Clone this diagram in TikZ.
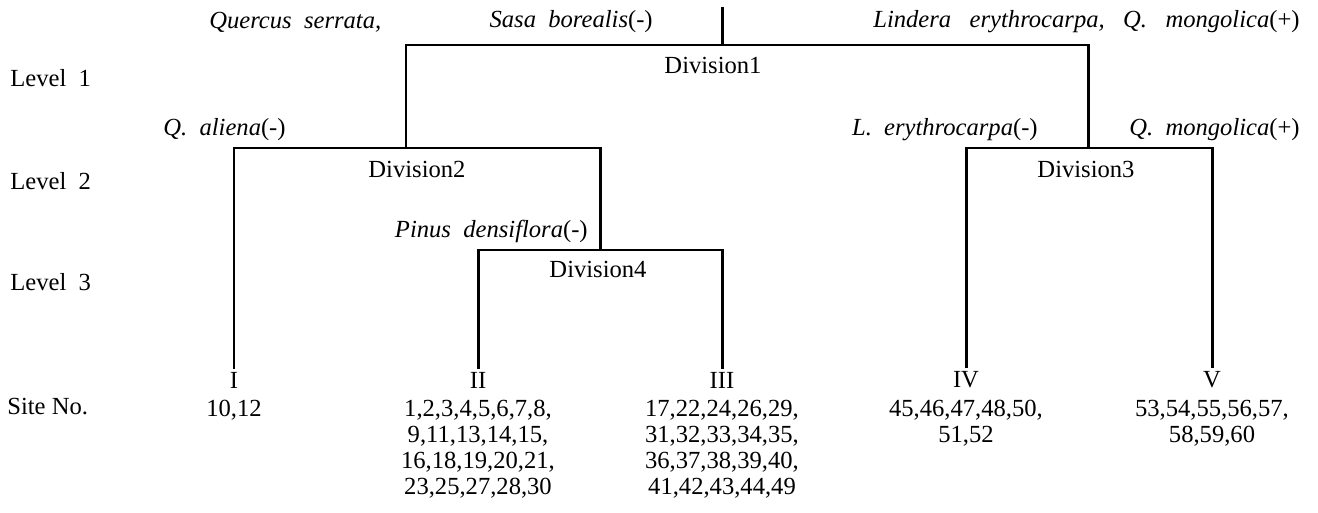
\documentclass[tikz,border=0pt]{standalone}
\usepackage{fontspec}
\setmainfont{Liberation Serif}
\usetikzlibrary{positioning}

\tikzset{
  branch/.style={line width=1.7pt},
  leaf/.style={inner sep=0.06cm},
  sites/.style={inner sep=0pt, align=center},
  spp/.style={inner sep=0pt},
}

\begin{document}
\begin{tikzpicture}[x=0.02cm, y=-0.02cm, font=\fontsize{14}{14.7}\selectfont]
  \useasboundingbox (0,0) rectangle (1318,513);
  % levels
  \node[spp, anchor=west] (lev1) at (10,78) {Level\ \ 1};
  \node[spp, anchor=west] (lev2) at (10,181) {Level\ \ 2};
  \node[spp, anchor=west] (lev3) at (10,282) {Level\ \ 3};
  \node[spp, anchor=west] (site) at (7,407) {Site No.};
  % junctions
  \coordinate (top) at (722,7);
  \coordinate (d1) at (722,45);
  \coordinate (d2) at (406,148);
  \coordinate (d3) at (1088,148);
  \coordinate (d2r) at (600,148);
  \coordinate (d4) at (600,250);
  % groups
  \node[leaf] (lI) at (234,380) {I};
  \node[leaf] (lII) at (478,380) {II};
  \node[leaf] (lIII) at (722,380) {III};
  \node[leaf] (lIV) at (966,380) {IV};
  \node[leaf] (lV) at (1212,380) {V};
  \node[sites, below=0.17cm of lI] (sI) {10,12};
  \node[sites, below=0.17cm of lII] (sII) {1,2,3,4,5,6,7,8,\\9,11,13,14,15,\\16,18,19,20,21,\\23,25,27,28,30};
  \node[sites, below=0.17cm of lIII] (sIII) {17,22,24,26,29,\\31,32,33,34,35,\\36,37,38,39,40,\\41,42,43,44,49};
  \node[sites, below=0.17cm of lIV] (sIV) {45,46,47,48,50,\\51,52};
  \node[sites, below=0.17cm of lV] (sV) {53,54,55,56,57,\\58,59,60};
  % branches
  \draw[branch] (top) -- (d1);
  \draw[branch] (d2) |- (d1) -| (d3);
  \draw[branch] (lI.north) |- (d2r) -- (d4);
  \draw[branch] (lII.north) |- (lIII.north |- d4) -- (lIII.north);
  \draw[branch] (lIV.north) |- (d3) -| (lV.north);
  % divisions
  \node[spp] (div1) at (713,65) {Division1};
  \node[spp] (div2) at (417,169) {Division2};
  \node[spp] (div3) at (1086,169) {Division3};
  \node[spp] (div4) at (598,269) {Division4};
  % indicator species
  \node[spp, anchor=west] (qs) at (209,22) {\textit{Quercus\ \ serrata,}};
  \node[spp, anchor=east] (sb) at (653,22) {\textit{Sasa\ \ borealis}(-)};
  \node[spp, anchor=east] (le) at (1300,22) {\textit{Lindera\hspace{0.75em}erythrocarpa,\hspace{0.75em}Q.\hspace{0.75em}mongolica}(+)};
  \node[spp, anchor=west] (qa) at (163,130) {\textit{Q.\ \ aliena}(-)};
  \node[spp, anchor=east] (ler) at (1038,130) {\textit{L.\ \ erythrocarpa}(-)};
  \node[spp, anchor=west] (qm) at (1129,130) {\textit{Q.\ \ mongolica}(+)};
  \node[spp, anchor=east] (pd) at (588,231) {\textit{Pinus\ \ densiflora}(-)};
\end{tikzpicture}
\end{document}
